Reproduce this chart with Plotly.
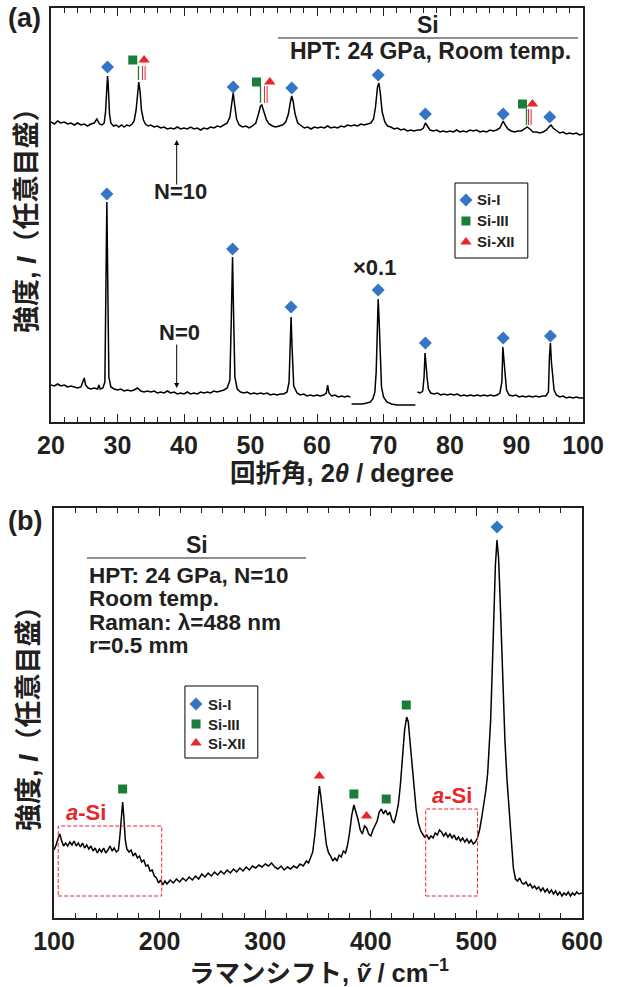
import plotly.graph_objects as go

FONT = "Liberation Sans, Noto Sans CJK JP, sans-serif"
INK = "#231f20"
BLUE = "#3475c6"
GREEN = "#1a7d3a"
RED = "#e8262c"

# ---------------- (a) XRD : N = 10 ----------------
xrd10_x = [20.0, 20.5, 21.0, 21.5, 22.0, 22.5, 23.0, 23.5, 24.0, 24.5, 25.0, 25.5, 26.0, 26.5, 26.9,
           27.3, 27.7, 28.0, 28.2, 28.4, 28.5, 28.6, 28.8, 29.0, 29.4, 29.8, 30.2, 30.6, 31.0, 31.4,
           31.8, 32.2, 32.5, 32.8, 33.0, 33.2, 33.4, 33.6, 33.9, 34.2, 34.6, 35.0, 35.5, 36.0, 36.5,
           37.0, 37.5, 38.0, 38.5, 39.0, 39.5, 40.0, 40.5, 41.0, 41.5, 42.0, 42.5, 43.0, 43.5, 44.0,
           44.5, 45.0, 45.5, 46.0, 46.5, 46.9, 47.2, 47.4, 47.6, 47.9, 48.3, 48.8, 49.3, 49.8, 50.3,
           50.8, 51.2, 51.5, 51.7, 52.0, 52.4, 52.8, 53.3, 53.8, 54.3, 54.8, 55.3, 55.7, 56.0, 56.2,
           56.4, 56.7, 57.1, 57.6, 58.1, 58.6, 59.1, 59.6, 60.1, 60.6, 61.1, 61.6, 62.1, 62.6, 63.1,
           63.6, 64.1, 64.6, 65.1, 65.6, 66.1, 66.6, 67.1, 67.6, 68.1, 68.5, 68.8, 69.1, 69.3, 69.5,
           69.8, 70.2, 70.6, 71.1, 71.6, 72.1, 72.6, 73.1, 73.6, 74.1, 74.6, 75.1, 75.6, 76.0, 76.3,
           76.6, 77.0, 77.5, 78.0, 78.5, 79.0, 79.5, 80.0, 80.5, 81.0, 81.5, 82.0, 82.5, 83.0, 83.5,
           84.0, 84.5, 85.0, 85.5, 86.0, 86.5, 87.0, 87.5, 87.8, 88.0, 88.3, 88.7, 89.2, 89.7, 90.2,
           90.7, 91.2, 91.6, 92.0, 92.5, 93.0, 93.5, 94.0, 94.5, 95.0, 95.2, 95.5, 96.0, 96.5, 97.0,
           97.5, 98.0, 98.5, 99.0, 99.5, 100.0]
xrd10_y = [300, 298, 301, 299, 300, 298, 299, 297, 299, 297, 298, 296, 298, 299, 303,
           298, 297, 299, 310, 340, 346, 338, 308, 299, 296, 297, 295, 297, 295, 297,
           296, 298, 301, 312, 330, 340, 330, 312, 302, 298, 296, 297, 295, 296, 294,
           295, 293, 294, 293, 295, 293, 294, 293, 295, 293, 294, 292, 294, 293, 295,
           294, 296, 295, 297, 299, 305, 320, 329, 318, 303, 297, 295, 296, 294, 296,
           299, 308, 316, 317, 310, 302, 298, 296, 295, 296, 297, 300, 308, 320, 326,
           321, 308, 299, 296, 294, 295, 293, 295, 294, 295, 294, 296, 294, 295, 294,
           296, 295, 297, 296, 297, 296, 298, 297, 298, 299, 303, 315, 335, 339, 330,
           310, 300, 296, 295, 293, 294, 292, 293, 291, 292, 291, 292, 292, 294, 299,
           296, 292, 291, 292, 290, 291, 290, 291, 290, 292, 290, 291, 290, 292, 291,
           292, 290, 291, 290, 292, 291, 292, 294, 298, 301, 297, 293, 291, 290, 291,
           291, 293, 295, 293, 290, 290, 289, 290, 292, 296, 297, 294, 291, 289, 290,
           288, 289, 288, 289, 287, 288]

# ---------------- (a) XRD : N = 0 (three segments, middle one x0.1) ----------------
xrd0_seg1_x = [20.0, 20.5, 21.0, 21.5, 22.0, 22.5, 23.0, 23.5, 24.0, 24.5, 24.8, 25.0, 25.2, 25.6,
               26.0, 26.5, 27.0, 27.2, 27.4, 27.8, 28.1, 28.25, 28.4, 28.55, 28.7, 29.0, 29.5, 30.0,
               30.5, 31.0, 31.5, 32.0, 32.5, 33.0, 33.5, 34.0, 34.5, 35.0, 35.5, 36.0, 36.5, 37.0,
               37.5, 38.0, 38.5, 39.0, 39.5, 40.0, 40.5, 41.0, 41.5, 42.0, 42.5, 43.0, 43.5, 44.0,
               44.5, 45.0, 45.5, 46.0, 46.5, 46.9, 47.1, 47.3, 47.45, 47.65, 48.0, 48.5, 49.0, 49.5,
               50.0, 50.5, 51.0, 51.5, 52.0, 52.5, 53.0, 53.5, 54.0, 54.5, 55.0, 55.5, 55.8, 56.0,
               56.1, 56.25, 56.5, 57.0, 57.5, 58.0, 58.5, 59.0, 59.5, 60.0, 60.5, 61.0, 61.4, 61.6,
               61.8, 62.2, 62.7, 63.2, 63.7, 64.2, 64.6, 65.0]
xrd0_seg1_y = [37, 36, 38, 36, 37, 35, 36, 35, 34, 35, 40, 44, 37, 34,
               33, 34, 33, 37, 33, 34, 40, 120, 220, 130, 45, 35, 33, 32,
               33, 31, 32, 31, 32, 34, 31, 30, 31, 30, 31, 29, 30, 29,
               31, 29, 30, 28, 29, 28, 30, 28, 29, 28, 30, 29, 30, 29,
               31, 30, 31, 32, 34, 42, 100, 165, 110, 45, 33, 30, 29, 30,
               28, 29, 28, 29, 28, 29, 27, 28, 27, 28, 28, 30, 40, 90,
               105, 75, 36, 29, 27, 28, 26, 27, 26, 27, 26, 27, 29, 37,
               29, 26, 27, 25, 26, 25, 26, 25]
xrd0_seg2_x = [65.2, 66.0, 66.8, 67.5, 68.0, 68.4, 68.7, 68.9, 69.05, 69.2, 69.35, 69.5, 69.7,
               70.0, 70.5, 71.2, 72.0, 73.0, 74.0, 74.8]
xrd0_seg2_y = [18, 18, 18, 19, 20, 23, 30, 50, 95, 123, 100, 60, 35,
               25, 20, 18, 17, 17, 17, 17]
xrd0_seg3_x = [75.1, 75.5, 75.9, 76.1, 76.25, 76.4, 76.55, 76.75, 77.1, 77.6, 78.1, 78.6, 79.1,
               79.6, 80.1, 80.6, 81.1, 81.6, 82.1, 82.6, 83.1, 83.6, 84.1, 84.6, 85.1, 85.6, 86.1,
               86.6, 87.1, 87.5, 87.8, 87.95, 88.1, 88.3, 88.5, 88.9, 89.4, 89.9, 90.4, 90.9, 91.4,
               91.9, 92.4, 92.9, 93.4, 93.9, 94.4, 94.8, 94.95, 95.1, 95.25, 95.45, 95.65, 96.0,
               96.5, 97.0, 97.5, 98.0, 98.5, 99.0, 99.5, 100.0]
xrd0_seg3_y = [30, 29, 31, 45, 69, 55, 45, 33, 29, 28, 29, 27, 28,
               27, 28, 27, 28, 26, 27, 26, 27, 26, 27, 26, 27, 26, 27,
               26, 27, 29, 40, 75, 58, 47, 32, 27, 26, 27, 25, 26, 25,
               26, 25, 26, 25, 26, 26, 30, 65, 79, 60, 48, 32, 27,
               25, 26, 24, 25, 24, 25, 24, 24]

# ---------------- (a) phase markers ----------------
a_si1_x = [28.5, 47.4, 56.2, 69.2, 76.3, 88.0, 95.0, 28.4, 47.3, 56.1, 69.2, 76.3, 88.0, 95.1]
a_si1_y = [355, 335, 334, 347, 308, 308, 305, 228, 173, 115, 132, 79, 84, 86]
a_si3_x = [32.3, 50.9, 90.9]
a_si3_y = [362, 340, 318]
a_si12_x = [34.0, 52.9, 92.4]
a_si12_y = [362, 340, 318]
# reference lines under the Si-III / Si-XII symbols
a_si3_line_x = [33.15, 51.5, 91.5]
a_si12_line_x = [33.95, 52.3, 92.0]
a_line_y0 = [342, 319, 297]
a_line_y1 = [356, 336, 313]

# ---------------- (b) Raman ----------------
raman_x = [100, 102, 104, 105.5, 107, 109, 111, 113, 115, 117, 119, 121, 123, 125, 127, 129, 131, 133,
           135, 137, 139, 141, 143, 145, 147, 149, 151, 153, 155, 157, 159, 161, 162.5, 164, 165, 166,
           167.5, 169, 171, 173, 175, 177, 179, 181, 183, 185, 187, 189, 191, 193, 195, 197, 199, 201,
           203, 205, 207, 210, 213, 216, 219, 222, 225, 228, 231, 234, 237, 240, 243, 246, 249, 252,
           255, 258, 261, 264, 267, 270, 273, 276, 279, 282, 285, 288, 291, 294, 297, 300, 303, 306,
           309, 312, 315, 318, 321, 324, 327, 330, 333, 336, 339, 341, 343, 345, 347, 348.5, 350, 351.3,
           352.5, 354, 356, 358, 360, 362, 364, 366, 368, 370, 372, 374, 376, 378, 380, 382, 384, 386,
           388, 390, 392, 394, 396, 398, 400, 402, 404, 406, 408, 410, 412, 414, 416, 418, 420, 422,
           424, 426, 428, 430, 432, 434, 435.5, 437, 439, 441, 443, 445, 447, 449, 451, 453, 455, 457,
           459, 461, 463, 465, 467, 469, 471, 473, 475, 477, 479, 481, 483, 485, 487, 489, 491, 493,
           495, 497, 499, 501, 503, 505, 507, 509, 510.7, 512, 513.5, 515, 516.5, 518, 519.5, 521, 522.5,
           524, 525.5, 527, 529, 531, 533, 535, 537, 539, 541, 543, 545, 547, 549, 551, 553, 555, 557,
           559, 561, 563, 565, 567, 569, 571, 573, 575, 577, 579, 581, 583, 585, 587, 589, 591, 593,
           595, 597, 600]
raman_y = [68, 73, 80, 84, 78, 72, 75, 72, 76, 73, 77, 72, 75, 71, 75, 70, 73, 69,
           72, 67, 70, 65, 69, 66, 70, 65, 68, 72, 67, 70, 66, 68, 83, 108, 116, 103,
           78, 69, 66, 68, 62, 65, 60, 62, 56, 58, 52, 53, 47, 48, 42, 40, 35, 38,
           33, 37, 34, 38, 35, 39, 36, 40, 37, 41, 38, 42, 39, 44, 41, 45, 42, 46,
           43, 47, 44, 48, 45, 49, 46, 50, 47, 51, 48, 52, 50, 53, 51, 54, 52, 55,
           51, 49, 52, 48, 51, 49, 52, 50, 54, 52, 57, 55, 61, 66, 83, 103, 123, 132,
           123, 108, 88, 73, 65, 62, 57, 60, 57, 63, 61, 67, 65, 73, 86, 103, 113, 106,
           98, 88, 84, 92, 90, 84, 82, 88, 92, 97, 106, 109, 104, 108, 103, 106, 98, 95,
           103, 113, 133, 163, 188, 201, 196, 178, 153, 128, 108, 95, 88, 84, 81, 83, 79, 82,
           80, 85, 83, 88, 86, 82, 85, 81, 84, 80, 83, 78, 81, 77, 80, 76, 79, 75,
           78, 74, 76, 80, 88, 100, 113, 128, 145, 168, 198, 248, 308, 353, 378, 360, 318,
           268, 228, 178, 138, 108, 73, 50, 39, 37, 40, 35, 34, 36, 32, 34, 30, 32, 29,
           31, 27, 30, 26, 29, 25, 28, 24, 27, 23, 26, 22, 25, 23, 26, 22, 25, 23,
           26, 24, 25]

b_si1_x = [519.5]
b_si1_y = [391]
b_si3_x = [165, 384, 414.6, 433.6]
b_si3_y = [129, 124, 119, 213]
b_si12_x = [351.3, 396]
b_si12_y = [142, 102]
# amorphous-Si regions (x0, x1, y0, y1)
asi_x0 = [104, 452]
asi_x1 = [202, 501]
asi_y0 = [22, 22]
asi_y1 = [92, 109]
asi_label_x = [130, 477]
asi_label_y = [106, 123]

phase_names = ["Si-I", "Si-III", "Si-XII"]
phase_symbols = ["diamond", "square", "triangle-up"]
phase_colors = [BLUE, GREEN, RED]
phase_sizes = [10, 9, 10]

fig = go.Figure()

line_style = dict(color="black", width=1.5)
fig.add_trace(go.Scatter(x=xrd10_x, y=xrd10_y, mode="lines", line=line_style,
                         showlegend=False, xaxis="x", yaxis="y"))
n0_x = xrd0_seg1_x + [None] + xrd0_seg2_x + [None] + xrd0_seg3_x
n0_y = xrd0_seg1_y + [None] + xrd0_seg2_y + [None] + xrd0_seg3_y
fig.add_trace(go.Scatter(x=n0_x, y=n0_y, mode="lines", line=line_style, connectgaps=False,
                         showlegend=False, xaxis="x", yaxis="y"))
fig.add_trace(go.Scatter(x=raman_x, y=raman_y, mode="lines", line=line_style,
                         showlegend=False, xaxis="x2", yaxis="y2"))

def markers(x, y, k, xa, ya):
    fig.add_trace(go.Scatter(x=x, y=y, mode="markers", name=phase_names[k], showlegend=False,
                             marker=dict(symbol=phase_symbols[k], color=phase_colors[k],
                                         size=phase_sizes[k], line=dict(width=0)),
                             xaxis=xa, yaxis=ya))

markers(a_si1_x, a_si1_y, 0, "x", "y")
markers(a_si3_x, a_si3_y, 1, "x", "y")
markers(a_si12_x, a_si12_y, 2, "x", "y")
markers(b_si1_x, b_si1_y, 0, "x2", "y2")
markers(b_si3_x, b_si3_y, 1, "x2", "y2")
markers(b_si12_x, b_si12_y, 2, "x2", "y2")

shapes = []
ann = []

def text(x, y, s, size=23, xanchor="center", color=INK, xref="paper", yref="paper", angle=0):
    ann.append(dict(x=x, y=y, xref=xref, yref=yref, text=s, showarrow=False, xanchor=xanchor,
                    yanchor="middle", textangle=angle,
                    font=dict(family=FONT, size=size, color=color, weight="bold")))

# legend boxes drawn in each panel's coordinates: (xa, ya, box x0, x1, y0, y1, marker x, text x, row ys)
legend_boxes = [
    ("x", "y", 80.75, 91.7, 164, 239, 82.4, 83.8, [222, 201, 180]),
    ("x2", "y2", 224, 293, 160, 232, 234.5, 243.5, [214, 194, 175]),
]
for xa, ya, bx0, bx1, by0, by1, mx, tx, rows in legend_boxes:
    shapes.append(dict(type="rect", xref=xa, yref=ya, x0=bx0, x1=bx1, y0=by0, y1=by1,
                       fillcolor="white", line=dict(color="black", width=1), layer="below"))
    for k in range(3):
        fig.add_trace(go.Scatter(x=[mx], y=[rows[k]], mode="markers", showlegend=False,
                                 marker=dict(symbol=phase_symbols[k], color=phase_colors[k],
                                             size=phase_sizes[k], line=dict(width=0)),
                                 xaxis=xa, yaxis=ya))
        text(tx, rows[k], phase_names[k], size=15, xanchor="left", xref=xa, yref=ya)

for xg, xr, y0, y1 in zip(a_si3_line_x, a_si12_line_x, a_line_y0, a_line_y1):
    shapes.append(dict(type="line", xref="x", yref="y", x0=xg, x1=xg, y0=y0, y1=y1,
                       line=dict(color=GREEN, width=1.3)))
    for d in (-0.2, 0.2):
        shapes.append(dict(type="line", xref="x", yref="y", x0=xr + d, x1=xr + d, y0=y0, y1=y1,
                           line=dict(color=RED, width=1)))
for x0, x1, y0, y1 in zip(asi_x0, asi_x1, asi_y0, asi_y1):
    shapes.append(dict(type="rect", xref="x2", yref="y2", x0=x0, x1=x1, y0=y0, y1=y1,
                       line=dict(color=RED, width=1, dash="4px,2px")))

def px(xp):
    return xp / 617

def py(yp):
    return (987 - yp) / 987

# title rules
shapes.append(dict(type="line", xref="paper", yref="paper", x0=px(278), x1=px(578),
                   y0=py(38), y1=py(38), line=dict(color=INK, width=1.2)))
shapes.append(dict(type="line", xref="paper", yref="paper", x0=px(87), x1=px(306),
                   y0=py(558), y1=py(558), line=dict(color=INK, width=1.2)))

text(px(24), py(18), "(a)", size=27)
text(px(25), py(521), "(b)", size=27)
text(px(428), py(25), "Si")
text(px(430), py(51), "HPT: 24 GPa, Room temp.")
text(px(197), py(545), "Si")
text(px(87), py(575), "HPT: 24 GPa, N=10", xanchor="left", size=22.5)
text(px(87), py(598), "Room temp.", xanchor="left", size=22.5)
text(px(87), py(622), "Raman: λ=488 nm", xanchor="left", size=22.5)
text(px(87), py(645), "r=0.5 mm", xanchor="left", size=22.5)
text(39.4, 230, "N=10", xref="x", yref="y", size=22)
text(39.3, 89, "N=0", xref="x", yref="y", size=22)
text(68.6, 154, "×0.1", xref="x", yref="y", size=22)
for lx, ly in zip(asi_label_x, asi_label_y):
    text(lx, ly, "<i>a</i>-Si", size=22, color=RED, xref="x2", yref="y2")
text(px(342), py(473), "回折角, 2<i>θ</i> / degree", size=25.5)
text(px(319), py(971), "ラマンシフト, <i>ṽ</i> / cm<sup>−1</sup>", size=25.5)
text(px(27), py(214), "強度, <i>I</i>（任意目盛）", size=27, angle=-90)
text(px(29), py(712), "強度, <i>I</i>（任意目盛）", size=27, angle=-90)

# arrows
for xh, yh, yt in [(38.9, 282, 236), (38.9, 34, 79)]:
    ann.append(dict(x=xh, y=yh, ax=xh, ay=yt, xref="x", yref="y", axref="x", ayref="y",
                    text="", showarrow=True, arrowhead=2, arrowsize=1, arrowwidth=1,
                    arrowcolor="black"))

axis_common = dict(showgrid=False, zeroline=False, showline=True, linecolor=INK, linewidth=1.5,
                   automargin=False)
xcommon = dict(axis_common, ticks="inside", ticklen=8, tickwidth=1, tickcolor=INK, mirror="allticks",
               tickfont=dict(family=FONT, size=25, color=INK, weight="bold"))
ycommon = dict(axis_common, ticks="", showticklabels=False, mirror=True)

fig.update_layout(
    width=617, height=987, margin=dict(l=0, r=0, t=0, b=0, autoexpand=False),
    paper_bgcolor="white", plot_bgcolor="white", showlegend=False,
    xaxis=dict(xcommon, domain=[px(51), px(583)], anchor="y", range=[20, 100], tick0=20, dtick=10,
               minor=dict(dtick=2, ticklen=5, ticks="inside", tickcolor=INK)),
    yaxis=dict(ycommon, domain=[py(422), py(8)], anchor="x", range=[0, 414]),
    xaxis2=dict(xcommon, domain=[px(54), px(582)], anchor="y2", range=[100, 600], tick0=100, dtick=100,
                minor=dict(dtick=20, ticklen=5, ticks="inside", tickcolor=INK)),
    yaxis2=dict(ycommon, domain=[py(918), py(508)], anchor="x2", range=[0, 410]),
    shapes=shapes, annotations=ann,
)

fig.write_html("out.html")
